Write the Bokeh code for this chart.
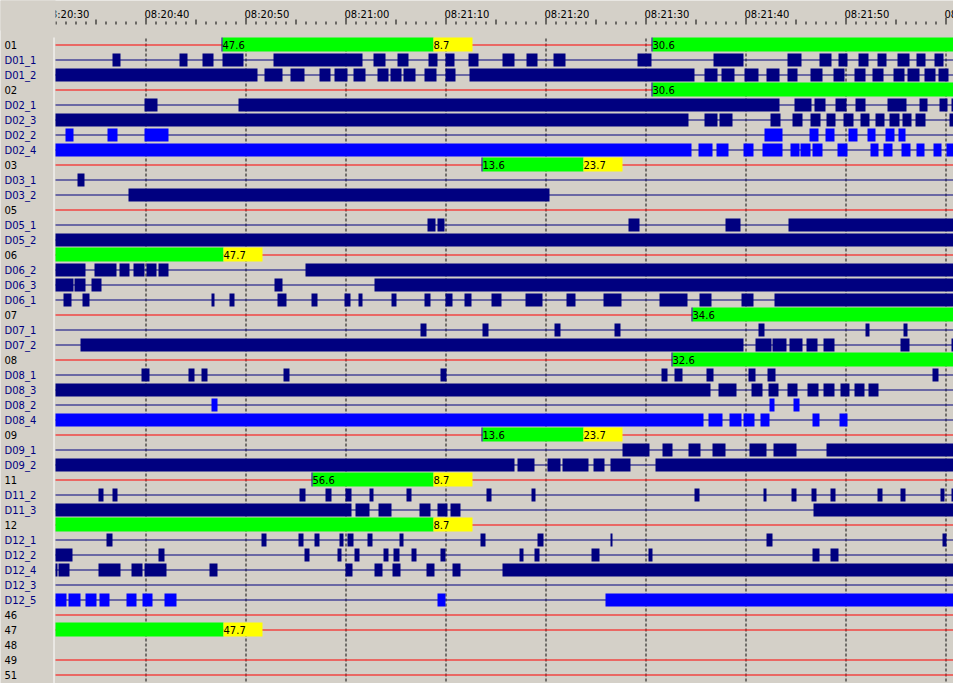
from bokeh.plotting import figure
from bokeh.models import Range1d, ColumnDataSource
from bokeh.core.properties import value
from bokeh.embed import file_html
from bokeh.resources import INLINE

# ---------------- data (seconds after 08:20:00) ----------------
E = 30.9    # trace already active at the visible left edge (08:20:30.9)
F = 121.0   # still active beyond the right edge

row_names = ["01", "D01_1", "D01_2", "02", "D02_1", "D02_3", "D02_2", "D02_4",
             "03", "D03_1", "D03_2", "05", "D05_1", "D05_2", "06", "D06_2",
             "D06_3", "D06_1", "07", "D07_1", "D07_2", "08", "D08_1", "D08_3",
             "D08_2", "D08_4", "09", "D09_1", "D09_2", "11", "D11_2", "D11_3",
             "12", "D12_1", "D12_2", "D12_4", "D12_3", "D12_5", "46", "47",
             "48", "49", "51"]
rows_without_line = ["48"]
bright_detectors = ["D02_2", "D02_4", "D08_2", "D08_4", "D12_5"]

tick_seconds = [30, 40, 50, 60, 70, 80, 90, 100, 110, 120]
tick_labels = ["08:20:30", "08:20:40", "08:20:50", "08:21:00", "08:21:10",
               "08:21:20", "08:21:30", "08:21:40", "08:21:50", "08:22:00"]

# signal groups: green / yellow intervals
sg01_green = [(47.6, 68.7), (90.6, F)]
sg01_yellow = [(68.7, 72.6)]
sg02_green = [(90.6, F)]
sg02_yellow = []
sg03_green = [(73.6, 83.7)]
sg03_yellow = [(83.7, 87.6)]
sg06_green = [(E, 47.7)]
sg06_yellow = [(47.7, 51.6)]
sg07_green = [(94.6, F)]
sg07_yellow = []
sg08_green = [(92.6, F)]
sg08_yellow = []
sg09_green = [(73.6, 83.7)]
sg09_yellow = [(83.7, 87.6)]
sg11_green = [(56.6, 68.7)]
sg11_yellow = [(68.7, 72.6)]
sg12_green = [(E, 68.7)]
sg12_yellow = [(68.7, 72.6)]
sg47_green = [(E, 47.7)]
sg47_yellow = [(47.7, 51.6)]

# detector occupancy intervals
d01_1 = [(36.6, 37.4), (43.3, 44.1), (45.6, 46.7), (47.6, 49.7), (52.7, 61.6), (62.7, 63.9),
         (65.1, 66.2), (68.2, 69.1), (69.9, 70.8), (72.2, 73.2), (75.6, 76.8), (78.0, 79.1),
         (80.7, 81.9), (89.1, 90.5), (96.7, 99.7), (104.1, 105.5), (107.3, 108.5),
         (109.2, 110.1), (111.2, 112.2), (113.1, 114.0), (115.1, 116.3), (117.0, 117.9),
         (118.8, 119.7)]
d01_2 = [(E, 51.1), (51.8, 53.6), (54.4, 55.8), (57.3, 58.4), (58.8, 60.1), (60.7, 61.9),
         (63.1, 64.2), (64.4, 65.5), (65.7, 66.9), (67.8, 69.0), (69.9, 70.9), (72.3, 94.8),
         (95.8, 97.1), (97.5, 98.8), (99.8, 101.2), (102.0, 103.3), (104.1, 105.1),
         (106.4, 107.6), (108.7, 109.8), (110.8, 111.9), (112.6, 113.7), (114.7, 115.8),
         (116.1, 117.3), (117.8, 118.9), (119.2, 120.2)]
d02_1 = [(39.8, 41.1), (49.2, 103.3), (104.8, 106.5), (106.8, 107.9), (108.9, 110.0),
         (110.9, 111.9), (114.1, 116.0), (117.3, 118.1), (119.3, 120.1), (120.5, F)]
d02_3 = [(E, 94.2), (95.8, 97.1), (97.3, 98.6), (102.4, 103.4), (104.6, 105.6), (106.4, 107.4),
         (108.0, 108.9), (109.7, 110.7), (111.4, 112.3), (112.9, 113.8), (114.3, 115.3),
         (115.6, 116.5), (116.9, 117.9), (120.3, F)]
d02_2 = [(31.9, 32.7), (36.1, 37.1), (39.8, 42.2), (101.8, 103.6), (106.3, 107.2),
         (107.9, 108.8), (110.2, 111.1), (112.1, 112.9), (113.9, 114.8), (115.2, 115.9)]
d02_4 = [(E, 94.5), (95.2, 96.6), (97.0, 98.2), (99.7, 100.7), (101.6, 103.6), (104.4, 105.3),
         (105.4, 106.4), (106.6, 107.6), (109.1, 110.1), (112.4, 113.2), (113.7, 114.6),
         (115.5, 116.4), (117.0, 117.8), (118.7, 119.5), (120.0, F)]
d03_1 = [(33.1, 33.8)]
d03_2 = [(38.2, 80.3)]
d05_1 = [(68.1, 68.9), (69.1, 69.8), (88.2, 89.3), (97.9, 99.4), (104.2, F)]
d05_2 = [(E, F)]
d06_2 = [(E, 33.9), (34.8, 37.0), (37.3, 38.3), (38.7, 39.8), (40.0, 41.0), (41.2, 42.2), (55.9, F)]
d06_3 = [(E, 32.7), (32.8, 33.9), (34.5, 35.5), (52.8, 53.6), (62.8, F)]
d06_1 = [(31.7, 32.5), (33.6, 34.3), (46.5, 46.8), (48.3, 48.8), (53.1, 54.0), (56.5, 57.1),
         (59.8, 60.4), (61.2, 61.6), (64.5, 65.0), (67.8, 68.4), (69.9, 70.6), (71.8, 72.5),
         (74.5, 75.5), (77.9, 79.6), (82.0, 82.9), (85.7, 87.5), (91.3, 94.1), (95.3, 96.5),
         (99.5, 100.7), (102.8, F)]
d07_1 = [(67.4, 68.0), (73.6, 74.2), (80.8, 81.4), (86.8, 87.4), (101.2, 101.8), (111.9, 112.3),
         (115.7, 116.1)]
d07_2 = [(33.4, 99.7), (100.9, 102.5), (102.6, 104.0), (104.3, 105.6), (106.0, 107.1),
         (107.7, 108.8), (115.4, 116.3), (120.5, F)]
d08_1 = [(39.5, 40.3), (44.2, 44.8), (45.5, 46.1), (53.7, 54.3), (69.4, 70.0), (91.5, 92.1),
         (92.8, 93.6), (96.0, 96.7), (100.2, 100.9), (102.1, 102.9), (118.6, 119.2)]
d08_3 = [(E, 96.4), (97.2, 99.0), (100.5, 101.6), (102.2, 103.2), (104.1, 105.1), (106.1, 107.2),
         (107.7, 108.8), (109.4, 110.3), (110.8, 111.8), (112.2, 113.2)]
d08_2 = [(46.5, 47.1), (102.3, 102.8), (104.7, 105.3)]
d08_4 = [(E, 95.7), (96.2, 97.6), (98.3, 99.5), (99.7, 100.8), (101.4, 102.3), (106.6, 107.3),
         (109.3, 110.1)]
d09_1 = [(87.6, 90.3), (91.6, 92.6), (94.2, 95.4), (96.6, 97.9), (100.3, 102.0), (102.7, 105.0),
         (108.0, F)]
d09_2 = [(E, 76.8), (77.1, 78.8), (80.1, 81.4), (81.6, 84.2), (84.7, 85.8), (86.4, 88.4), (90.9, F)]
d11_2 = [(35.2, 35.7), (36.6, 37.1), (55.3, 55.9), (57.9, 58.5), (59.9, 60.5), (62.3, 62.7),
         (66.0, 66.5), (74.0, 74.5), (78.5, 78.9), (94.8, 95.3), (101.7, 102.0), (104.5, 105.0),
         (106.5, 107.0), (108.4, 108.9), (113.1, 113.6), (115.4, 115.9), (119.4, 119.8), (120.5, F)]
d11_3 = [(E, 60.5), (60.9, 62.3), (63.2, 64.5), (67.3, 68.4), (69.1, 70.1), (70.4, 71.4), (106.7, F)]
d12_1 = [(36.0, 36.6), (51.5, 52.0), (55.2, 55.7), (56.8, 57.3), (59.3, 59.7), (60.1, 60.7),
         (62.1, 62.6), (65.3, 65.7), (73.4, 73.9), (79.1, 79.7), (86.4, 86.6), (102.0, 102.6),
         (119.6, 120.0)]
d12_2 = [(E, 32.6), (41.2, 41.8), (55.8, 56.3), (59.1, 59.5), (60.8, 61.3), (63.7, 64.2),
         (64.7, 65.3), (66.5, 67.0), (69.4, 69.9), (77.3, 77.7), (78.8, 79.3), (84.5, 85.3),
         (90.2, 90.6), (106.6, 107.3), (108.4, 109.2)]
d12_4 = [(E, 31.1), (31.2, 32.3), (35.2, 37.4), (38.5, 39.6), (39.8, 42.0), (46.3, 47.1),
         (59.9, 60.6), (62.8, 63.6), (64.6, 65.4), (68.0, 68.8), (70.6, 71.4), (75.6, F)]
d12_3 = []
d12_5 = [(E, 32.0), (32.2, 33.4), (33.9, 35.0), (35.3, 36.3), (38.0, 39.0), (39.6, 40.6),
         (41.8, 43.0), (69.1, 69.9), (85.9, F)]

# tables built from the lists above
signal_green = {"01": sg01_green, "02": sg02_green, "03": sg03_green, "06": sg06_green,
                "07": sg07_green, "08": sg08_green, "09": sg09_green, "11": sg11_green,
                "12": sg12_green, "47": sg47_green}
signal_yellow = {"01": sg01_yellow, "02": sg02_yellow, "03": sg03_yellow, "06": sg06_yellow,
                 "07": sg07_yellow, "08": sg08_yellow, "09": sg09_yellow, "11": sg11_yellow,
                 "12": sg12_yellow, "47": sg47_yellow}
detectors = {"D01_1": d01_1, "D01_2": d01_2, "D02_1": d02_1, "D02_3": d02_3, "D02_2": d02_2,
             "D02_4": d02_4, "D03_1": d03_1, "D03_2": d03_2, "D05_1": d05_1, "D05_2": d05_2,
             "D06_2": d06_2, "D06_3": d06_3, "D06_1": d06_1, "D07_1": d07_1, "D07_2": d07_2,
             "D08_1": d08_1, "D08_3": d08_3, "D08_2": d08_2, "D08_4": d08_4, "D09_1": d09_1,
             "D09_2": d09_2, "D11_2": d11_2, "D11_3": d11_3, "D12_1": d12_1, "D12_2": d12_2,
             "D12_4": d12_4, "D12_3": d12_3, "D12_5": d12_5}

# ---------------- style / layout ----------------
BG = "#d4d0c8"
RED = "#ff0000"
NAVY = "#000080"
BLUE = "#0000ff"
GREEN = "#00ff00"
YELLOW = "#ffff00"
FONT = value("DejaVu Sans")
FS = "10px"

W, H = 953, 683
X_START = 25.4          # time at the figure's left pixel (10 px per second)
ROW0_PY = 44.5          # pixel y of the first row line
ROW_PX = 15.0


def tx(px):
    return X_START + px / 10.0


def ry(py):
    return (py - ROW0_PY) / ROW_PX


VIEW_START = tx(55)
NUDGE = -0.05

p = figure(width=W, height=H, output_backend="svg", toolbar_location=None,
           x_range=Range1d(tx(0), tx(W)), y_range=Range1d(ry(H), ry(0)),
           x_axis_type=None, y_axis_type=None, min_border=0,
           background_fill_color=BG, border_fill_color=BG, outline_line_color=None)
p.xgrid.visible = False
p.ygrid.visible = False

# dashed time grid
grid_t = [t + NUDGE for t in range(40, 121, 10)]
p.segment(x0=grid_t, x1=grid_t, y0=[ry(38)] * len(grid_t), y1=[ry(H + 5)] * len(grid_t),
          line_color="#101010", line_width=1, line_dash="3 2")

# separator between names and traces
p.segment(x0=[tx(53.5)], x1=[tx(53.5)], y0=[ry(37)], y1=[ry(H + 5)], line_color="#ffffff", line_width=1)

# header ticks
tx0, ty0, ty1 = [], [], []
for s in range(31, 121):
    tx0.append(s + NUDGE)
    ty0.append(ry(17) if s % 10 == 0 else (ry(19) if s % 5 == 0 else ry(21)))
    ty1.append(ry(24))
p.segment(x0=tx0, x1=tx0, y0=ty0, y1=ty1, line_color="#000000", line_width=1)

# header labels
p.text(x=[t - 0.2 for t in tick_seconds], y=[ry(14)] * len(tick_seconds), text=tick_labels,
       text_font=FONT, text_font_size=FS, text_color="#000000",
       text_align="left", text_baseline="alphabetic")
# names column masks the header (clip like the original)
p.quad(left=[tx(-5)], right=[VIEW_START], top=[ry(-5)], bottom=[ry(30)],
       fill_color=BG, line_color=None)

# row base lines
lx0, lx1, ly, lc = [], [], [], []
for i, name in enumerate(row_names):
    if name in rows_without_line:
        continue
    lx0.append(VIEW_START)
    lx1.append(F)
    ly.append(i)
    lc.append(NAVY if name.startswith("D") else RED)
p.segment(x0=lx0, x1=lx1, y0=ly, y1=ly, line_color=lc, line_width=1)

# detector bars
db = dict(left=[], right=[], top=[], bottom=[], color=[])
for i, name in enumerate(row_names):
    if name not in detectors:
        continue
    col = BLUE if name in bright_detectors else NAVY
    for a, b in detectors[name]:
        db["left"].append(max(a, VIEW_START))
        db["right"].append(b)
        db["top"].append(i - 6.5 / ROW_PX)
        db["bottom"].append(i + 6.5 / ROW_PX)
        db["color"].append(col)
p.quad(left="left", right="right", top="top", bottom="bottom", fill_color="color",
       line_color=None, source=ColumnDataSource(db))

# signal bars
sb = dict(left=[], right=[], top=[], bottom=[], color=[])
lab = dict(x=[], y=[], text=[])
mk = dict(x=[], y0=[], y1=[])
for i, name in enumerate(row_names):
    for intervals, col in ((signal_green.get(name, []), GREEN), (signal_yellow.get(name, []), YELLOW)):
        for a, b in intervals:
            sb["left"].append(max(a, VIEW_START))
            sb["right"].append(b)
            sb["top"].append(i - 7.5 / ROW_PX)
            sb["bottom"].append(i + 6.5 / ROW_PX)
            sb["color"].append(col)
            if a > VIEW_START:
                lab["x"].append(a)
                lab["y"].append(i)
                lab["text"].append("%.1f" % (a % 60))
                if col == GREEN:
                    mk["x"].append(a + NUDGE)
                    mk["y0"].append(i - 7.5 / ROW_PX)
                    mk["y1"].append(i + 6.5 / ROW_PX)
p.quad(left="left", right="right", top="top", bottom="bottom", fill_color="color",
       line_color=None, source=ColumnDataSource(sb))
p.segment(x0="x", x1="x", y0="y0", y1="y1", line_color=NAVY, line_width=1,
          source=ColumnDataSource(mk))
p.text(x="x", y="y", text="text", source=ColumnDataSource(lab), text_font=FONT,
       text_font_size=FS, text_color="#000000", text_align="left", text_baseline="middle")

# row names
p.text(x=[tx(4)] * len(row_names), y=list(range(len(row_names))), text=row_names,
       text_font=FONT, text_font_size=FS,
       text_color=[NAVY if n.startswith("D") else "#000000" for n in row_names],
       text_align="left", text_baseline="middle")

open("out.html", "w").write(file_html(p, INLINE))
